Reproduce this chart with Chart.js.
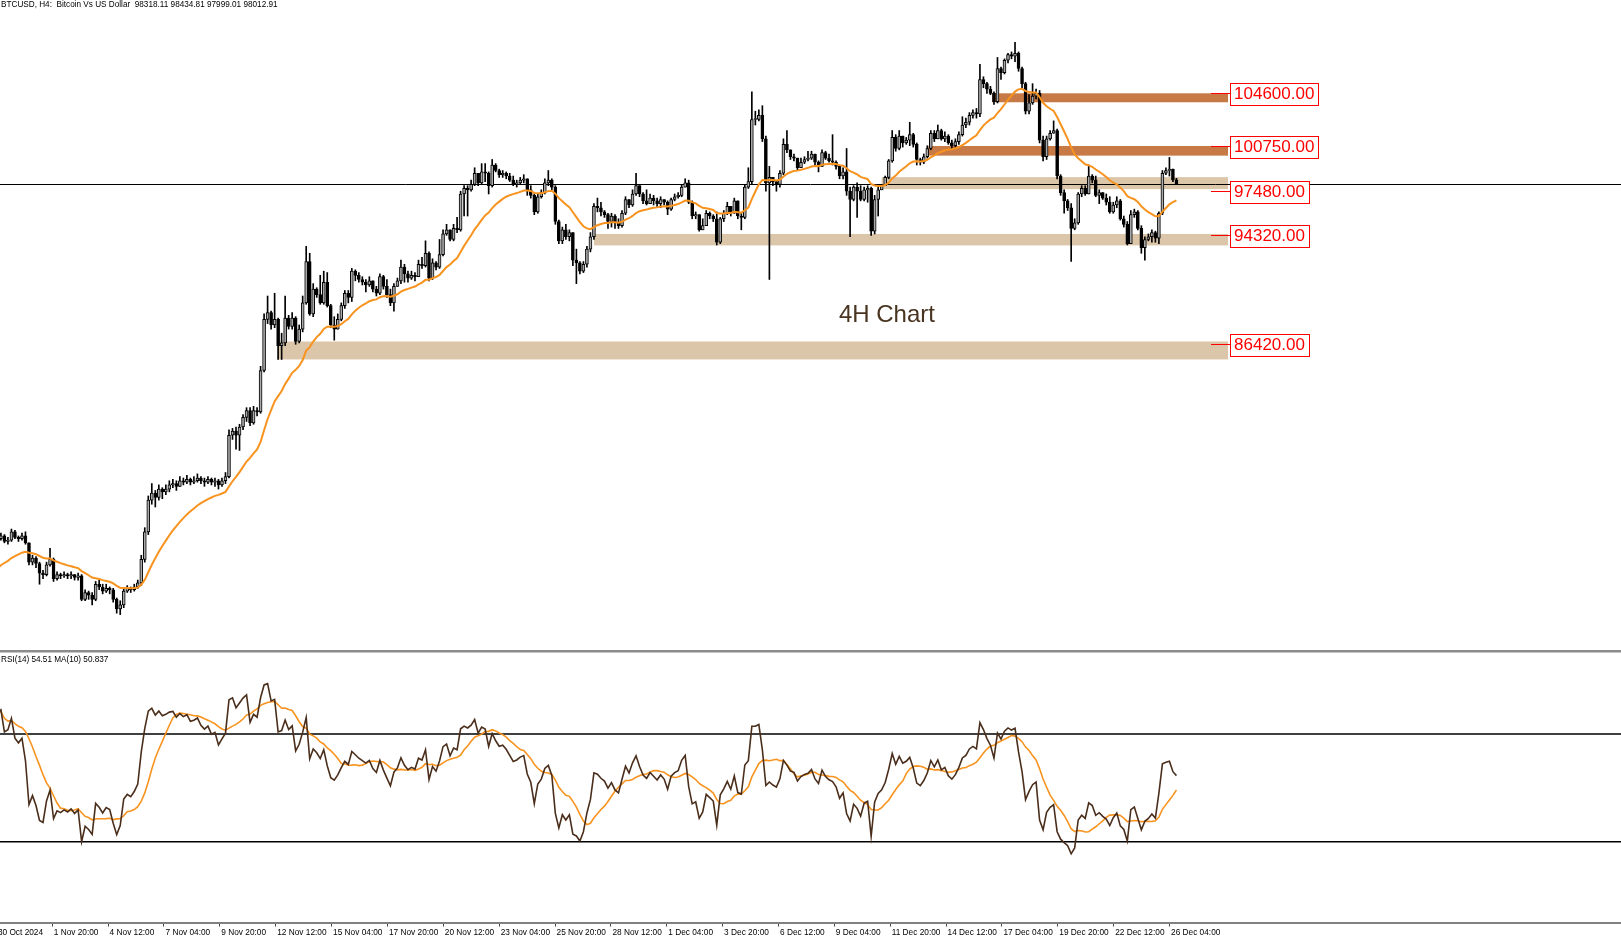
<!DOCTYPE html>
<html>
<head>
<meta charset="utf-8">
<title>BTCUSD H4</title>
<script src="https://cdn.jsdelivr.net/npm/chart.js@4.4.0/dist/chart.umd.min.js"></script>
<style>
    html, body { margin: 0; padding: 0; background: #fff; }
    #tela { position: relative; width: 1621px; height: 940px; overflow: hidden; background: #fff; }
    #grafico-preco { position: absolute; left: 0; top: 0; }
    #grafico-rsi { position: absolute; left: 0; top: 650px; }
    .texto { position: absolute; font-family: 'Liberation Sans', Arial, sans-serif; font-size: 8.2px; color: #000; white-space: pre; line-height: 10px; }
</style>
</head>
<body>
<div id="tela">
    <canvas id="grafico-preco" width="1621" height="650"></canvas>
    <canvas id="grafico-rsi" width="1621" height="290"></canvas>
    <div class="texto" style="left:1px;top:0px;">BTCUSD, H4:  Bitcoin Vs US Dollar  98318.11 98434.81 97999.01 98012.91</div>
    <div class="texto" style="left:1px;top:655px;">RSI(14) 54.51 MA(10) 50.837</div>
</div>
<script>
// =====================================================
// DADOS DO GRÁFICO (barras de 4 horas)
// =====================================================

// posição (em barras) de cada rótulo de data do eixo inferior
const indicesRotulos = [-0.29, 15.63, 31.55, 47.47, 63.39, 79.31, 95.23, 111.15, 127.07, 142.99, 158.91,
    174.83, 190.75, 206.67, 222.59, 238.51, 254.43, 270.35, 286.27, 302.19, 318.11, 334.03];
const rotulosDatas = ['30 Oct 2024', '1 Nov 20:00', '4 Nov 12:00', '7 Nov 04:00', '9 Nov 20:00', '12 Nov 12:00',
    '15 Nov 04:00', '17 Nov 20:00', '20 Nov 12:00', '23 Nov 04:00', '25 Nov 20:00', '28 Nov 12:00',
    '1 Dec 04:00', '3 Dec 20:00', '6 Dec 12:00', '9 Dec 04:00', '11 Dec 20:00', '14 Dec 12:00',
    '17 Dec 04:00', '19 Dec 20:00', '22 Dec 12:00', '26 Dec 04:00'];

const aberturaInicial = 72500;

const fechamentos = [
    72300, 72500, 72100, 72200, 72800, 72400, 72300, 72500, 72000, 70600,
    70900, 70500, 69800, 69700, 70400, 70800, 69400, 69700, 69600, 69700,
    69600, 69700, 69500, 69600, 67900, 68400, 68200, 67900, 69000, 68800,
    68500, 68700, 68600, 67900, 67200, 67500, 68500, 68700, 68600, 68800,
    69100, 70800, 72800, 75100, 75600, 75300, 75900, 75700, 75900, 76200,
    76300, 76100, 76500, 76400, 76600, 76400, 76500, 76700, 76500, 76400,
    76600, 76400, 76500, 76200, 76500, 76800, 79800, 80100, 79800, 80400,
    81100, 81600, 80700, 81600, 81500, 84500, 88200, 88700, 87800, 88200,
    86300, 86500, 88300, 87700, 88300, 86600, 87500, 89400, 92400, 88600,
    90400, 90000, 89400, 90900, 89200, 87800, 87500, 88200, 89200, 90100,
    89800, 91700, 91400, 91100, 90900, 90700, 91000, 90400, 90100, 91300,
    90600, 90000, 89400, 90600, 91000, 92000, 91500, 91200, 91400, 91300,
    92200, 92100, 93000, 91200, 92300, 92000, 92900, 94400, 94700, 94000,
    94800, 94700, 97300, 97700, 97600, 98000, 98800, 98100, 98900, 98800,
    97900, 99400, 99000, 98700, 98800, 98600, 98300, 98000, 98100, 98300,
    98400, 97600, 97200, 96000, 97100, 97400, 98100, 98300, 97800, 95300,
    93900, 94700, 94200, 94500, 92500, 92300, 91700, 92200, 93300, 94200,
    96400, 96300, 96000, 95800, 95300, 95700, 95200, 95000, 95900, 96900,
    96500, 97300, 97900, 97300, 96800, 96600, 97000, 96800, 96600, 96900,
    96700, 96200, 96900, 97100, 97200, 97800, 98100, 96700, 95700, 95800,
    94700, 95000, 95900, 95700, 95500, 93800, 95500, 95900, 96400, 95900,
    96800, 95700, 95600, 97800, 98200, 102700, 102700, 103000, 101300, 98100,
    98500, 98200, 98000, 98800, 100900, 100500, 100000, 99900, 99200, 99600,
    99800, 99900, 100200, 99600, 99300, 100300, 99900, 99700, 99600, 99300,
    98600, 98900, 97500, 96900, 97800, 97500, 96900, 97600, 97700, 94600,
    96900, 97600, 97900, 98500, 99700, 101400, 100600, 101500, 101000, 101200,
    101600, 100900, 99800, 99600, 100000, 100600, 101700, 101300, 101900, 101300,
    101500, 101000, 100800, 101100, 101600, 102300, 102500, 103000, 103200, 103100,
    105600, 105300, 104900, 104600, 104000, 106400, 106100, 107000, 107400, 107300,
    107500, 106400, 105300, 103300, 103900, 104400, 104600, 101200, 100000, 101300,
    101700, 101900, 98600, 97400, 96800, 96300, 94800, 95200, 97300, 97700,
    97300, 98600, 98300, 97200, 97400, 97000, 96700, 96000, 96500, 96800,
    95500, 95100, 93700, 95800, 96000, 94800, 93400, 94000, 94200, 94500,
    94100, 95900, 98800, 99000, 99100, 98318.11, 98012.91
];

const maximas = [
    72700, 72700, 72600, 72400, 73000, 72900, 72500, 72700, 72800, 72000,
    71100, 71000, 70600, 70000, 70600, 71600, 70900, 69900, 69800, 69900,
    69800, 69900, 69700, 69800, 69700, 68600, 68500, 68400, 69200, 69300,
    69000, 69000, 68800, 68700, 68000, 67800, 68700, 68900, 68800, 69000,
    69300, 71100, 73100, 75400, 76300, 75800, 76200, 76000, 76200, 76500,
    76600, 76500, 76800, 76700, 76900, 76700, 76800, 77000, 76800, 76700,
    76800, 76700, 76700, 76600, 76700, 77100, 80200, 80300, 80400, 80600,
    81300, 81800, 81800, 81900, 81800, 84800, 88600, 89900, 88800, 90100,
    88300, 87200, 89900, 88500, 88700, 88400, 87800, 89900, 93500, 93000,
    90800, 90500, 91400, 91700, 91600, 89300, 88400, 88600, 89400, 90300,
    90300, 91900, 91800, 91600, 91300, 91100, 91300, 90900, 90600, 91500,
    91400, 91100, 90400, 90800, 91200, 92500, 92200, 91700, 91700, 91600,
    92500, 92700, 93900, 93100, 92600, 92400, 94000, 94700, 95100, 94600,
    95100, 95600, 97500, 97900, 97900, 98300, 99200, 98800, 99500, 99500,
    98900, 99800, 99500, 99100, 99000, 98900, 98800, 98600, 98300, 98500,
    98700, 98300, 97900, 97300, 97300, 97600, 98400, 99000, 98400, 97900,
    95400, 94900, 95100, 94700, 94500, 93300, 92400, 92400, 93500, 94500,
    96600, 97000, 96700, 96100, 95900, 95900, 95800, 95500, 96100, 97100,
    96900, 97600, 98800, 97900, 97400, 97600, 97300, 97200, 97000, 97100,
    96900, 96800, 97000, 97300, 97400, 98000, 98400, 98300, 96800, 96000,
    95800, 95500, 96100, 96000, 95800, 96000, 95600, 96100, 96700, 96400,
    97000, 96600, 95900, 98000, 99200, 104700, 103300, 103400, 103700, 101500,
    99300, 98500, 98300, 99000, 101300, 101900, 100500, 100200, 99800, 99900,
    100000, 100400, 100400, 100100, 99700, 100500, 100400, 100200, 101600, 99700,
    99300, 99200, 100600, 97800, 97900, 98100, 97900, 97800, 97900, 97800,
    97200, 97800, 98000, 98600, 99800, 101900, 101600, 101900, 101300, 101400,
    102500, 101700, 101000, 99900, 100200, 100800, 101900, 101900, 102300, 102000,
    101800, 101600, 101200, 101300, 101800, 102900, 102800, 103200, 103400, 103500,
    106700, 105800, 105400, 105100, 104700, 107200, 106500, 107100, 107500, 107600,
    108300, 107600, 106500, 105400, 104500, 105300, 104900, 104800, 101500, 101500,
    101900, 102600, 102000, 98700, 97600, 96900, 96600, 95500, 97400, 97900,
    97900, 99400, 98700, 98600, 97600, 97400, 97300, 97100, 96700, 97100,
    96900, 95700, 95300, 96100, 96200, 96100, 95000, 94200, 94400, 94700,
    94600, 96000, 99000, 99200, 99950, 99100, 98434.81
];

const minimas = [
    72000, 72200, 72000, 71900, 72100, 72300, 72100, 72200, 71900, 70400,
    70400, 70200, 69000, 69400, 69600, 70300, 69200, 69300, 69400, 69500,
    69400, 69400, 69300, 69300, 67800, 67800, 67900, 67500, 67800, 68600,
    68300, 68400, 68300, 67700, 66900, 66800, 67300, 68400, 68400, 68500,
    68700, 68900, 70600, 72600, 74800, 74600, 75100, 75200, 75500, 75700,
    76000, 75800, 76100, 76200, 76300, 76200, 76300, 76400, 76300, 76100,
    76300, 76200, 76100, 75900, 76100, 76300, 76700, 79500, 78800, 78700,
    80200, 80800, 80500, 80600, 81200, 81400, 84400, 87900, 87500, 87600,
    85300, 85300, 86300, 87500, 87500, 86400, 86500, 87300, 89300, 88500,
    88400, 89800, 89300, 89300, 89100, 87600, 86700, 87600, 88100, 89000,
    89400, 89500, 91000, 90900, 90700, 90200, 90600, 90200, 89900, 90000,
    90400, 89800, 89200, 88800, 90700, 90800, 90900, 90900, 91100, 91000,
    91300, 91900, 92000, 91000, 91100, 91800, 91900, 92800, 94300, 93900,
    93900, 94500, 94600, 95700, 95700, 97500, 97900, 97900, 98000, 98200,
    97300, 97800, 98900, 98500, 98500, 98400, 98200, 97900, 97800, 98000,
    98100, 97200, 97000, 95800, 95900, 97000, 97300, 97900, 97600, 95100,
    93700, 93700, 94000, 93900, 92100, 90800, 91500, 91600, 92000, 93100,
    94000, 96000, 95700, 95600, 94800, 94900, 94800, 94800, 94900, 95800,
    96300, 96400, 97200, 97100, 96600, 96500, 96600, 96500, 96400, 96300,
    96500, 95800, 96100, 96800, 97000, 97100, 97800, 96600, 95500, 95500,
    94600, 94700, 95000, 95500, 95300, 93600, 93700, 95300, 95800, 95700,
    95900, 95500, 94700, 95500, 97700, 98000, 102300, 102600, 101100, 97500,
    91100, 97900, 97500, 97800, 98700, 100300, 99800, 99700, 99000, 99400,
    99500, 99700, 99800, 99300, 98900, 99400, 99800, 99600, 99400, 99100,
    98400, 98400, 97200, 94200, 96800, 95600, 96800, 96800, 96700, 94300,
    94400, 95700, 97600, 97900, 98400, 99600, 100400, 100500, 100700, 100900,
    100800, 100700, 99400, 99400, 99500, 99900, 100500, 101100, 101400, 101200,
    101100, 100900, 100600, 100700, 100900, 101500, 102100, 102300, 102800, 102800,
    102900, 105000, 104600, 104500, 103800, 103900, 105600, 106000, 106800, 107100,
    106900, 106200, 105000, 103100, 103100, 103800, 104200, 101000, 99700, 99800,
    101200, 101700, 98400, 97200, 95900, 96100, 92400, 94700, 95100, 97100,
    97200, 97300, 98100, 97100, 96600, 96900, 96500, 95900, 95900, 96300,
    95400, 94900, 93600, 93700, 95600, 94700, 93000, 92500, 93900, 93800,
    93800, 93700, 95800, 98700, 98600, 98200, 97999.01
];

// Valor da média móvel na primeira barra
const mediaInicial = 70150;
const periodoMedia = 20;

// RSI(14) com média de 10
const periodoRSI = 14;
const periodoMediaRSI = 10;
const rsiGanhoInicial = 210;
const rsiPerdaInicial = 60;
const niveisRSI = [70, 30];

// Zonas de suporte / resistência
const zonasPreco = [104600, 100750, 97480, 94320, 86420];
const zonasTopo = [104600, 100780, 98520, 94400, 86600];
const zonasBase = [103950, 100080, 97650, 93570, 85300];
const zonasInicio = [283.5, 265.3, 252, 170, 79.8];
const zonasFim = 350.7;
const zonasEscuras = [true, true, false, false, false];

const textoNota = '4H Chart';
const notaBarra = 253.5;
const notaPreco = 88520;

// =====================================================
// CONFIGURAÇÕES
// =====================================================

const GraficoConfig = {
    xMin: 0.741,
    xMax: 462.69,
    precoMin: 64229,
    precoMax: 111366,
    fonte: "'Liberation Sans', Arial, sans-serif",
    cores: {
        alta: '#a9a9a9',
        baixa: '#000000',
        media: '#f7931e',
        rsi: '#4a2e1b',
        zonaEscura: '#c77a45',
        zonaClara: '#dcc6a9',
        rotulo: '#ff0000'
    }
};

// =====================================================
// CÁLCULOS
// =====================================================

const aberturas = fechamentos.map((c, i) => i === 0 ? aberturaInicial : fechamentos[i - 1]);

function calcularMediaExponencial(valores, periodo, inicial) {
    const k = 2 / (periodo + 1);
    const saida = [];
    let atual = inicial;
    valores.forEach((v, i) => {
        if (i > 0) atual = atual + k * (v - atual);
        saida.push(atual);
    });
    return saida;
}

function calcularRSI(valores, periodo) {
    let ganho = rsiGanhoInicial;
    let perda = rsiPerdaInicial;
    return valores.map((v, i) => {
        if (i > 0) {
            const dif = v - valores[i - 1];
            ganho = (ganho * (periodo - 1) + Math.max(dif, 0)) / periodo;
            perda = (perda * (periodo - 1) + Math.max(-dif, 0)) / periodo;
        }
        return 100 - 100 / (1 + ganho / perda);
    });
}

function calcularMediaSimples(valores, periodo) {
    return valores.map((v, i) => {
        const ini = Math.max(0, i - periodo + 1);
        const janela = valores.slice(ini, i + 1);
        return janela.reduce((a, b) => a + b, 0) / janela.length;
    });
}

const mediaPreco = calcularMediaExponencial(fechamentos, periodoMedia, mediaInicial);
const valoresRSI = calcularRSI(fechamentos, periodoRSI);
const mediaRSI = calcularMediaSimples(valoresRSI, periodoMediaRSI);
const ultimoPreco = fechamentos[fechamentos.length - 1];

// =====================================================
// PLUGINS
// =====================================================

const zonasPlugin = {
    id: 'zonas',
    beforeDatasetsDraw(chart) {
        const { ctx, chartArea, scales: { x, y } } = chart;
        ctx.save();
        zonasTopo.forEach((topo, k) => {
            const x0 = x.getPixelForValue(zonasInicio[k]);
            const x1 = x.getPixelForValue(zonasFim);
            const y0 = y.getPixelForValue(topo);
            const y1 = y.getPixelForValue(zonasBase[k]);
            ctx.fillStyle = zonasEscuras[k] ? GraficoConfig.cores.zonaEscura : GraficoConfig.cores.zonaClara;
            ctx.fillRect(x0, y0, x1 - x0, y1 - y0);
        });
        // linha do último preço
        const yp = Math.round(y.getPixelForValue(ultimoPreco)) + 0.5;
        ctx.strokeStyle = '#000';
        ctx.lineWidth = 1;
        ctx.beginPath();
        ctx.moveTo(chartArea.left, yp);
        ctx.lineTo(chartArea.right, yp);
        ctx.stroke();
        ctx.restore();
    },
    afterDatasetsDraw(chart) {
        const { ctx, scales: { x, y } } = chart;
        ctx.save();
        const xf = x.getPixelForValue(zonasFim);
        ctx.font = '17px ' + GraficoConfig.fonte;
        ctx.textBaseline = 'middle';
        zonasPreco.forEach(nivel => {
            const yl = Math.round(y.getPixelForValue(nivel)) + 0.5;
            const texto = nivel.toFixed(2);
            const largura = ctx.measureText(texto).width + 8;
            ctx.strokeStyle = GraficoConfig.cores.rotulo;
            ctx.lineWidth = 1;
            ctx.beginPath();
            ctx.moveTo(xf - 17, yl);
            ctx.lineTo(xf + 2, yl);
            ctx.stroke();
            ctx.fillStyle = '#fff';
            ctx.fillRect(xf + 2, yl - 11, largura, 22);
            ctx.strokeRect(Math.round(xf + 2) + 0.5, Math.round(yl - 11) + 0.5, Math.round(largura), 22);
            ctx.fillStyle = GraficoConfig.cores.rotulo;
            ctx.fillText(texto, xf + 6, yl + 1);
        });
        // texto central
        ctx.font = '24px ' + GraficoConfig.fonte;
        ctx.fillStyle = '#48341f';
        ctx.textAlign = 'center';
        ctx.fillText(textoNota, x.getPixelForValue(notaBarra), y.getPixelForValue(notaPreco));
        ctx.restore();
    }
};

const rsiPlugin = {
    id: 'niveisRSI',
    beforeDraw(chart) {
        const { ctx } = chart;
        ctx.save();
        ctx.fillStyle = '#8c8c8c';
        ctx.fillRect(0, 0, chart.width, 2.5);
        ctx.restore();
    },
    beforeDatasetsDraw(chart) {
        const { ctx, chartArea, scales: { y } } = chart;
        ctx.save();
        ctx.strokeStyle = '#000';
        ctx.lineWidth = 1.6;
        niveisRSI.forEach(v => {
            const yy = y.getPixelForValue(v);
            ctx.beginPath();
            ctx.moveTo(chartArea.left, yy);
            ctx.lineTo(chartArea.right, yy);
            ctx.stroke();
        });
        ctx.restore();
    }
};

// =====================================================
// CRIAÇÃO DOS GRÁFICOS
// =====================================================

function criarGraficoPreco() {
    const ctx = document.getElementById('grafico-preco');
    const pavios = fechamentos.map((c, i) => ({
        x: i,
        y: [Math.min(minimas[i], aberturas[i], c), Math.max(maximas[i], aberturas[i], c)]
    }));
    const corpos = fechamentos.map((c, i) => ({ x: i, y: [aberturas[i], c] }));
    const media = mediaPreco.map((v, i) => ({ x: i, y: v }));

    new Chart(ctx, {
        type: 'bar',
        data: {
            datasets: [
                {
                    type: 'line',
                    data: media,
                    borderColor: GraficoConfig.cores.media,
                    borderWidth: 2,
                    pointRadius: 0,
                    tension: 0,
                    order: 0
                },
                {
                    data: corpos,
                    backgroundColor: c => (c.raw && c.raw.y[1] >= c.raw.y[0]) ? GraficoConfig.cores.alta : GraficoConfig.cores.baixa,
                    borderColor: '#000',
                    borderWidth: 1,
                    borderSkipped: false,
                    barThickness: 3,
                    minBarLength: 1,
                    grouped: false,
                    order: 1
                },
                {
                    data: pavios,
                    backgroundColor: '#000',
                    borderWidth: 0,
                    barThickness: 1,
                    grouped: false,
                    order: 2
                }
            ]
        },
        options: {
            responsive: false,
            animation: false,
            events: [],
            layout: { padding: 0 },
            plugins: { legend: { display: false }, tooltip: { enabled: false } },
            scales: {
                x: { type: 'linear', min: GraficoConfig.xMin, max: GraficoConfig.xMax, offset: false, display: false },
                y: { type: 'linear', min: GraficoConfig.precoMin, max: GraficoConfig.precoMax, display: false }
            }
        },
        plugins: [zonasPlugin]
    });
}

function criarGraficoRSI() {
    const ctx = document.getElementById('grafico-rsi');
    new Chart(ctx, {
        type: 'line',
        data: {
            datasets: [
                {
                    data: mediaRSI.map((v, i) => ({ x: i, y: v })),
                    borderColor: GraficoConfig.cores.media,
                    borderWidth: 1.6,
                    pointRadius: 0,
                    order: 1
                },
                {
                    data: valoresRSI.map((v, i) => ({ x: i, y: v })),
                    borderColor: GraficoConfig.cores.rsi,
                    borderWidth: 1.6,
                    pointRadius: 0,
                    order: 0
                }
            ]
        },
        options: {
            responsive: false,
            animation: false,
            events: [],
            layout: { padding: { top: 3.2, left: 0, right: 0, bottom: 0 } },
            plugins: { legend: { display: false }, tooltip: { enabled: false } },
            scales: {
                x: {
                    type: 'linear',
                    min: GraficoConfig.xMin,
                    max: GraficoConfig.xMax,
                    offset: false,
                    position: 'bottom',
                    afterBuildTicks: s => { s.ticks = indicesRotulos.map(v => ({ value: v })); },
                    afterFit: s => { s.height = 17.5; s.paddingLeft = 0; s.paddingRight = 0; },
                    ticks: {
                        autoSkip: false,
                        maxRotation: 0,
                        minRotation: 0,
                        align: 'start',
                        labelOffset: 1.5,
                        padding: 1,
                        color: '#000',
                        font: { family: GraficoConfig.fonte, size: 8.3 },
                        callback: (v, i) => rotulosDatas[i]
                    },
                    grid: { display: true, drawOnChartArea: false, drawTicks: true, tickLength: 4, color: '#444', lineWidth: 1 },
                    border: { display: true, color: '#808080', width: 2 }
                },
                y: { type: 'linear', min: 0, max: 100, display: false }
            }
        },
        plugins: [rsiPlugin]
    });
}

criarGraficoPreco();
criarGraficoRSI();
</script>
</body>
</html>
